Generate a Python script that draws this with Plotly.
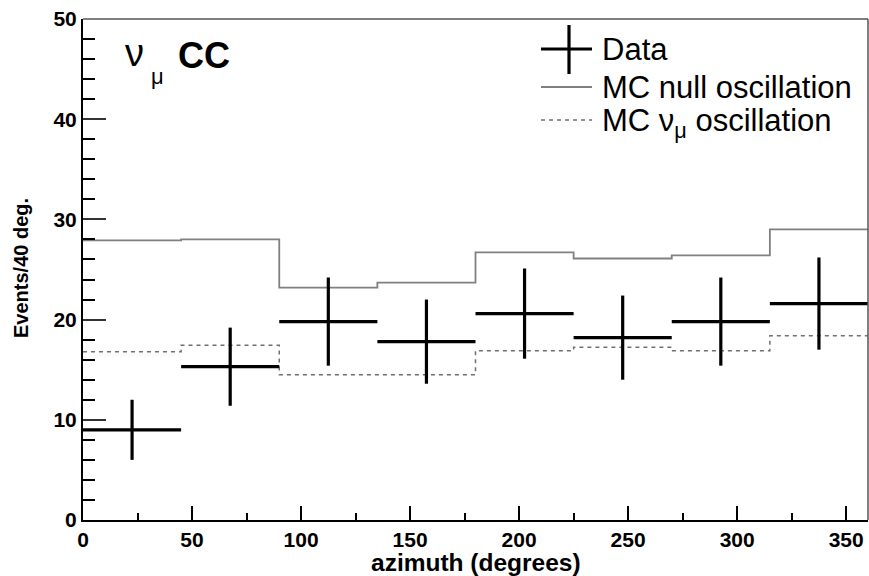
import plotly.graph_objects as go

# ---- data ----
bin_edges = [0, 45, 90, 135, 180, 225, 270, 315, 360]
data_vals = [9.0, 15.3, 19.8, 17.8, 20.6, 18.2, 19.8, 21.6]
data_errs = [3.0, 3.9, 4.4, 4.2, 4.5, 4.2, 4.4, 4.6]
mc_null = [27.9, 28.0, 23.2, 23.7, 26.7, 26.1, 26.4, 29.0]
mc_osc = [16.8, 17.45, 14.5, 14.5, 16.9, 17.25, 16.9, 18.4]
x_ticks = [0, 50, 100, 150, 200, 250, 300, 350]
y_ticks = [0, 10, 20, 30, 40, 50]

centers = [(bin_edges[i] + bin_edges[i + 1]) / 2 for i in range(len(data_vals))]
half_w = [(bin_edges[i + 1] - bin_edges[i]) / 2 for i in range(len(data_vals))]

W, H = 869, 576
L, R, T, B = 83, 1, 19, 56
pw, ph = W - L - R, H - T - B
FONT = "Liberation Sans, Arial, Helvetica, sans-serif"


def px(x):
    return (x - L) / pw


def py(y):
    return (H - B - y) / ph


fig = go.Figure()

fig.add_trace(go.Scatter(
    x=bin_edges, y=mc_null + [mc_null[-1]], mode="lines", line_shape="hv",
    line=dict(color="#808080", width=1.8), showlegend=False, hoverinfo="skip"))
fig.add_trace(go.Scatter(
    x=bin_edges, y=mc_osc + [mc_osc[-1]], mode="lines", line_shape="hv",
    line=dict(color="#707070", width=1.5, dash="4px,4px"), showlegend=False, hoverinfo="skip"))
fig.add_trace(go.Scatter(
    x=centers, y=data_vals, mode="markers",
    marker=dict(size=1, color="black"),
    error_x=dict(type="data", array=half_w, thickness=3.2, width=0, color="black"),
    error_y=dict(type="data", array=data_errs, thickness=3.2, width=0, color="black"),
    showlegend=False))

tickfont = dict(family=FONT, size=21, color="black", weight="bold")

fig.update_xaxes(
    range=[0, 360], tickvals=x_ticks, ticks="inside", ticklen=14, tickwidth=1.5,
    tickcolor="black", showline=True, linecolor="black", linewidth=2,
    showgrid=False, zeroline=False, tickfont=tickfont, ticklabelstandoff=0,
    minor=dict(dtick=25, ticks="inside", ticklen=7, tickwidth=1.5, tickcolor="black", showgrid=False))
fig.update_yaxes(
    range=[0, 50], tickvals=y_ticks, ticks="inside", ticklen=23, tickwidth=1.5,
    tickcolor="#333", showline=True, linecolor="black", linewidth=2,
    showgrid=False, zeroline=False, tickfont=tickfont, ticklabelstandoff=0,
    minor=dict(dtick=2, ticks="inside", ticklen=12, tickwidth=1.5, tickcolor="black", showgrid=False))

shapes = [
    # top and right frame
    dict(type="line", xref="paper", yref="paper", x0=0, x1=1, y0=1, y1=1,
         line=dict(color="#555", width=1.5)),
    dict(type="line", xref="paper", yref="paper", x0=1, x1=1, y0=0, y1=1,
         line=dict(color="#555", width=1.5)),
    # legend samples
    dict(type="line", xref="paper", yref="paper", x0=px(541), x1=px(592), y0=py(49), y1=py(49),
         line=dict(color="black", width=3.2)),
    dict(type="line", xref="paper", yref="paper", x0=px(569), x1=px(569), y0=py(25), y1=py(74),
         line=dict(color="black", width=3.2)),
    dict(type="line", xref="paper", yref="paper", x0=px(541), x1=px(592), y0=py(87), y1=py(87),
         line=dict(color="#808080", width=1.8)),
    dict(type="line", xref="paper", yref="paper", x0=px(541), x1=px(592), y0=py(120), y1=py(120),
         line=dict(color="#707070", width=1.5, dash="4px,4px")),
]

lfont = dict(family=FONT, size=31, color="black")
annotations = [
    dict(text="Data", xref="paper", yref="paper", x=px(600), y=py(49),
         xanchor="left", yanchor="middle", showarrow=False, font=lfont),
    dict(text="MC null oscillation", xref="paper", yref="paper", x=px(600), y=py(87),
         xanchor="left", yanchor="middle", showarrow=False, font=lfont),
    dict(text="MC ν<sub>μ</sub> oscillation", xref="paper", yref="paper", x=px(600), y=py(123),
         xanchor="left", yanchor="middle", showarrow=False, font=lfont),
    # title  "ν_μ CC"
    dict(text="ν", xref="paper", yref="paper", x=px(123), y=py(53),
         xanchor="left", yanchor="middle", showarrow=False,
         font=dict(family=FONT, size=38, color="black")),
    dict(text="μ", xref="paper", yref="paper", x=px(149), y=py(77),
         xanchor="left", yanchor="middle", showarrow=False,
         font=dict(family=FONT, size=22, color="black")),
    dict(text="<b>CC</b>", xref="paper", yref="paper", x=px(176), y=py(56),
         xanchor="left", yanchor="middle", showarrow=False,
         font=dict(family=FONT, size=36, color="black")),
    dict(text="<b>azimuth (degrees)</b>", xref="paper", yref="paper", x=0.5, y=py(577),
         xanchor="center", yanchor="bottom", showarrow=False, borderpad=0,
         font=dict(family=FONT, size=24.5, color="black")),
    dict(text="<b>Events/40 deg.</b>", xref="paper", yref="paper", x=px(21), y=py(268),
         xanchor="center", yanchor="middle", textangle=-90, showarrow=False,
         font=dict(family=FONT, size=20, color="black")),
]

fig.update_layout(
    width=W, height=H, margin=dict(l=L, r=R, t=T, b=B, autoexpand=False),
    plot_bgcolor="white", paper_bgcolor="white",
    shapes=shapes, annotations=annotations, showlegend=False)

fig.write_html("out.html")
